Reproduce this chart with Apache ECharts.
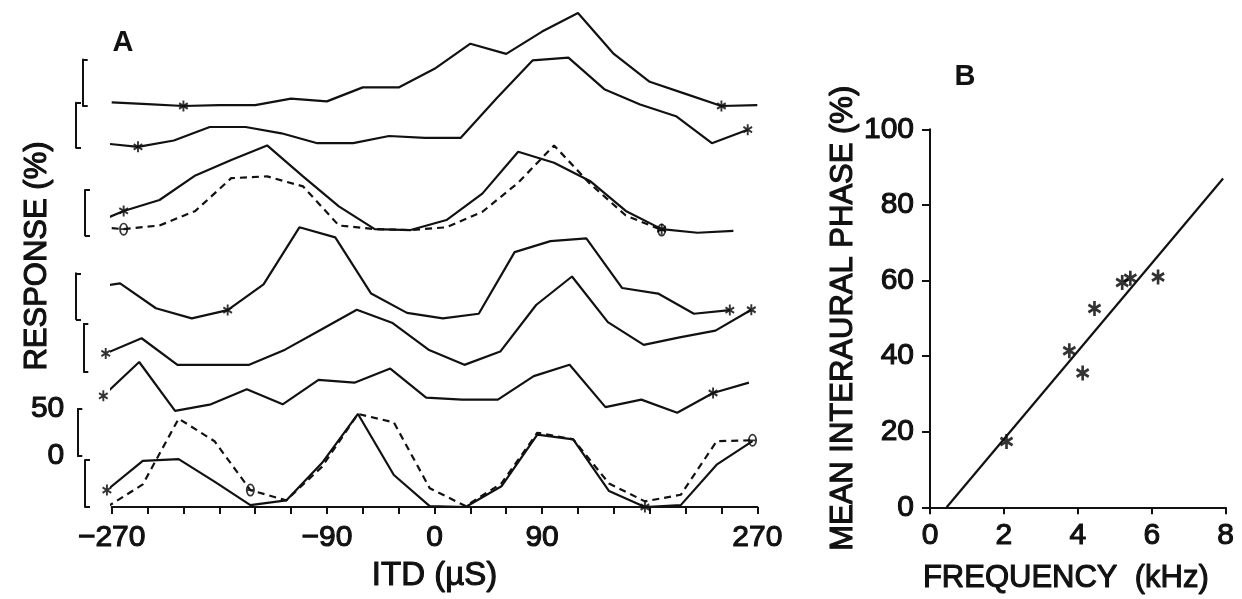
<!DOCTYPE html>
<html>
<head>
<meta charset="utf-8">
<script src="https://cdn.jsdelivr.net/npm/echarts@6/dist/echarts.min.js"></script>
<style>
  html, body { margin: 0; padding: 0; background: #ffffff; }
  #chart { width: 1242px; height: 599px; }
</style>
</head>
<body>
<div id="chart"></div>
<script>
// ---------- Panel A: ITD response curves (response in %, 0-100 per trace) ----------
const itdTickLabels = [-270, -90, 0, 90, 270];

const itdT1 = [-270, -240, -210, -180, -150, -120, -90, -60, -30, 0, 30, 60, 90, 120, 150, 180, 210, 240, 270];
const respT1 = [4, 2, 0, 1, 1, 8, 5, 20, 20, 40, 67, 56, 80, 100, 56, 26, 13, 0, 1];
const starsT1 = [2, 17];

const itdT2 = [-278, -248, -218, -188, -158, -128, -98, -68, -38, -8, 22, 52, 82, 112, 142, 172, 202, 232, 262];
const respT2 = [5, 1, 8, 23, 23, 16, 5, 5, 13, 11, 11, 55, 97, 100, 65, 48, 35, 5, 20];
const starsT2 = [1, 18];

const itdT3 = [-290, -260, -230, -200, -170, -140, -110, -80, -50, -20, 10, 40, 70, 100, 130, 160, 190, 220, 250];
const respT3 = [10, 27, 39, 66, 83, 99, 65, 32, 7, 6, 17, 46, 92, 80, 60, 27, 7, 3, 5];
const respT3b = [10, 7, 11, 27, 63, 65, 54, 11, 7, 6, 9, 26, 58, 99, 57, 22, 6];
const starsT3 = [1, 16];
const thetasT3 = [1, 16];

const itdT4 = [-293, -263, -233, -203, -173, -143, -113, -83, -53, -23, 7, 37, 67, 97, 127, 157, 187, 217, 247];
const respT4 = [33, 39, 12, 1, 10, 38, 100, 89, 28, 7, 1, 6, 73, 85, 88, 34, 28, 6, 10];
const starsT4 = [4, 18];

const itdT5 = [-275, -245, -215, -185, -155, -125, -95, -65, -35, -5, 25, 55, 85, 115, 145, 175, 205, 235, 265];
const respT5 = [19, 35, 7, 7, 7, 23, 44, 65, 51, 23, 7, 21, 70, 100, 52, 28, 36, 43, 65];
const starsT5 = [0, 18];

const itdT6 = [-277, -247, -217, -187, -157, -127, -97, -67, -37, -7, 23, 53, 83, 113, 143, 173, 203, 233, 263];
const respT6 = [64, 100, 48, 55, 71, 55, 81, 78, 93, 62, 60, 60, 85, 97, 52, 60, 46, 67, 78];
const starsT6 = [0, 17];

const itdT7 = [-274, -244, -214, -184, -154, -124, -94, -64, -34, -4, 26, 56, 86, 116, 146, 176, 206, 236, 266];
const respT7 = [18, 49, 51, 27, 2, 7, 47, 99, 34, 1, 0, 22, 77, 72, 17, 0, 2, 45, 70];
const respT7b = [0, 24, 94, 70, 18, 7, 43, 99, 90, 20, 1, 25, 79, 72, 25, 6, 13, 70, 71];
const starsT7 = [0, 15];
const thetasT7 = [4, 18];

// ---------- Panel B: mean interaural phase vs frequency ----------
const freqKHz = [2.07, 3.77, 4.13, 4.45, 5.2, 5.42, 6.17];
const phasePct = [17.4, 41.4, 35.5, 52.6, 59.5, 60.6, 60.9];
const fitFreq = [0.45, 7.93];
const fitPhase = [0, 87];

// ---------- styling / layout ----------
const ink = '#111111';
const font = '"Liberation Sans", Arial, Helvetica, sans-serif';
const plotA = { left: 111.7, width: 645.6 };
// each trace gets its own strip; the strip height is the 50 % scale bracket
const strips = [
  { top: 59.5, height: 46.5, bracketX: 82.7 },
  { top: 102.7, height: 45, bracketX: 76 },
  { top: 190, height: 45.5, bracketX: 85 },
  { top: 273.3, height: 46, bracketX: 76 },
  { top: 324, height: 47.5, bracketX: 83.3 },
  { top: 409, height: 47, bracketX: 77.3 },
  { top: 460, height: 47, bracketX: 85 }
];
const plotB = { left: 930, top: 129.3, width: 295.7, height: 378 };

const traces = [
  { itd: itdT1, curves: [{ v: respT1, dashed: false, stars: starsT1 }] },
  { itd: itdT2, curves: [{ v: respT2, dashed: false, stars: starsT2 }] },
  { itd: itdT3, curves: [{ v: respT3, dashed: false, stars: starsT3 },
                         { v: respT3b, dashed: true, thetas: thetasT3 }] },
  { itd: itdT4, curves: [{ v: respT4, dashed: false, stars: starsT4 }] },
  { itd: itdT5, curves: [{ v: respT5, dashed: false, stars: starsT5 }] },
  { itd: itdT6, curves: [{ v: respT6, dashed: false, stars: starsT6 }] },
  { itd: itdT7, curves: [{ v: respT7, dashed: false, stars: starsT7 },
                         { v: respT7b, dashed: true, thetas: thetasT7 }] }
];

// six-armed asterisk built from three bars
const starPath = 'path://M-0.19,-1L0.19,-1L0.19,1L-0.19,1Z' +
  'M0.771,-0.665L0.961,-0.335L-0.771,0.665L-0.961,0.335Z' +
  'M-0.961,-0.335L-0.771,-0.665L0.961,0.335L0.771,0.665Z';
// zero with a crossbar
const thetaPath = 'path://M0 -6A4.2 6 0 1 1 0 6A4.2 6 0 1 1 0 -6Z' +
  'M0 -4.4A2.5 4.4 0 1 0 0 4.4A2.5 4.4 0 1 0 0 -4.4Z' +
  'M-2.7 -0.8L2.7 -0.8L2.7 0.8L-2.7 0.8Z';

const labelText = { color: ink, fontFamily: font, textBorderColor: ink, textBorderWidth: 1.1 };

const grid = [], xAxis = [], yAxis = [], series = [];
const last = strips.length - 1;

strips.forEach((s, i) => {
  grid.push({ left: plotA.left, width: plotA.width, top: s.top, height: s.height, outerBoundsMode: 'none' });
  xAxis.push({
    type: 'value', gridIndex: i, min: -270, max: 270, interval: 30,
    show: i === last,
    axisLine: { show: true, onZero: false, lineStyle: { color: ink, width: 2 } },
    axisTick: { show: true, length: 7, lineStyle: { color: ink, width: 2 } },
    axisLabel: {
      show: true, margin: 16, fontSize: 30, ...labelText,
      formatter: v => itdTickLabels.includes(v) ? (v < 0 ? '\u2212' + Math.abs(v) : String(v)) : ''
    },
    splitLine: { show: false },
    name: i === last ? 'ITD (\u00b5S)' : '',
    nameLocation: 'middle', nameGap: 52,
    nameTextStyle: { fontSize: 33, ...labelText }
  });
  yAxis.push({
    type: 'value', gridIndex: i, min: 0, max: 50, interval: 50,
    position: 'left', offset: plotA.left - s.bracketX,
    axisLine: { show: true, onZero: false, lineStyle: { color: ink, width: 2 } },
    axisTick: { show: true, inside: true, length: 5, lineStyle: { color: ink, width: 2 } },
    axisLabel: { show: i === 5, margin: 13, fontSize: 30, ...labelText },
    splitLine: { show: false }
  });

  const t = traces[i];
  t.curves.forEach(c => {
    const pts = c.v.map((val, k) => [t.itd[k], val]);
    series.push({
      type: 'line', xAxisIndex: i, yAxisIndex: i, data: pts,
      symbol: 'none', clip: false, silent: true,
      lineStyle: { color: ink, width: 2.2, type: c.dashed ? [7, 5] : 'solid' }
    });
    if (c.stars) {
      series.push({
        type: 'scatter', xAxisIndex: i, yAxisIndex: i, clip: false, silent: true,
        data: c.stars.map(k => pts[k]),
        symbol: starPath, symbolSize: [10, 11], symbolKeepAspect: true,
        itemStyle: { color: '#000000' }
      });
    }
    if (c.thetas) {
      series.push({
        type: 'scatter', xAxisIndex: i, yAxisIndex: i, clip: false, silent: true,
        data: c.thetas.map(k => pts[k]),
        symbol: thetaPath, symbolSize: [9, 13],
        itemStyle: { color: '#000000' }
      });
    }
  });
});

// Panel B
const gb = grid.length;
grid.push({ ...plotB, outerBoundsMode: 'none' });
xAxis.push({
  type: 'value', gridIndex: gb, min: 0, max: 8, interval: 2,
  axisLine: { show: true, onZero: false, lineStyle: { color: ink, width: 2 } },
  axisTick: { show: true, length: 7, lineStyle: { color: ink, width: 2 } },
  axisLabel: { margin: 13, fontSize: 30, ...labelText },
  splitLine: { show: false },
  name: 'FREQUENCY  (kHz)', nameLocation: 'middle', nameGap: 56,
  nameTextStyle: { fontSize: 31, padding: [0, 24, 0, 0], ...labelText }
});
yAxis.push({
  type: 'value', gridIndex: gb, min: 0, max: 100, interval: 20,
  axisLine: { show: true, onZero: false, lineStyle: { color: ink, width: 2 } },
  axisTick: { show: true, length: 8, lineStyle: { color: ink, width: 2 } },
  axisLabel: { margin: 16, fontSize: 30, ...labelText },
  splitLine: { show: false },
  name: 'MEAN INTERAURAL PHASE (%)', nameLocation: 'middle', nameRotate: 90, nameGap: 64,
  nameTextStyle: { fontSize: 31, ...labelText }
});
series.push({
  type: 'line', xAxisIndex: gb, yAxisIndex: gb, symbol: 'none', silent: true,
  data: fitFreq.map((f, k) => [f, fitPhase[k]]),
  lineStyle: { color: ink, width: 2.2 }
});
series.push({
  type: 'scatter', xAxisIndex: gb, yAxisIndex: gb, silent: true,
  data: freqKHz.map((f, k) => [f, phasePct[k]]),
  symbol: starPath, symbolSize: [14, 15], symbolKeepAspect: true,
  itemStyle: { color: '#000000' }
});

const chart = echarts.init(document.getElementById('chart'), null, { renderer: 'canvas' });
chart.setOption({
  backgroundColor: '#ffffff',
  animation: false,
  grid, xAxis, yAxis, series,
  graphic: [
    { type: 'text', x: 123, y: 43, style: { text: 'A', fontSize: 29, fontWeight: 'bold', fontFamily: font, fill: ink, align: 'center', verticalAlign: 'middle', textAlign: 'center', textVerticalAlign: 'middle' } },
    { type: 'text', x: 965, y: 77, style: { text: 'B', fontSize: 29, fontWeight: 'bold', fontFamily: font, fill: ink, align: 'center', verticalAlign: 'middle', textAlign: 'center', textVerticalAlign: 'middle' } },
    { type: 'text', x: 37, y: 256, rotation: Math.PI / 2, style: { text: 'RESPONSE (%)', fontSize: 31, fontFamily: font, fill: ink, stroke: ink, lineWidth: 1.1, align: 'center', verticalAlign: 'middle', textAlign: 'center', textVerticalAlign: 'middle' } }
  ]
});
</script>
</body>
</html>
